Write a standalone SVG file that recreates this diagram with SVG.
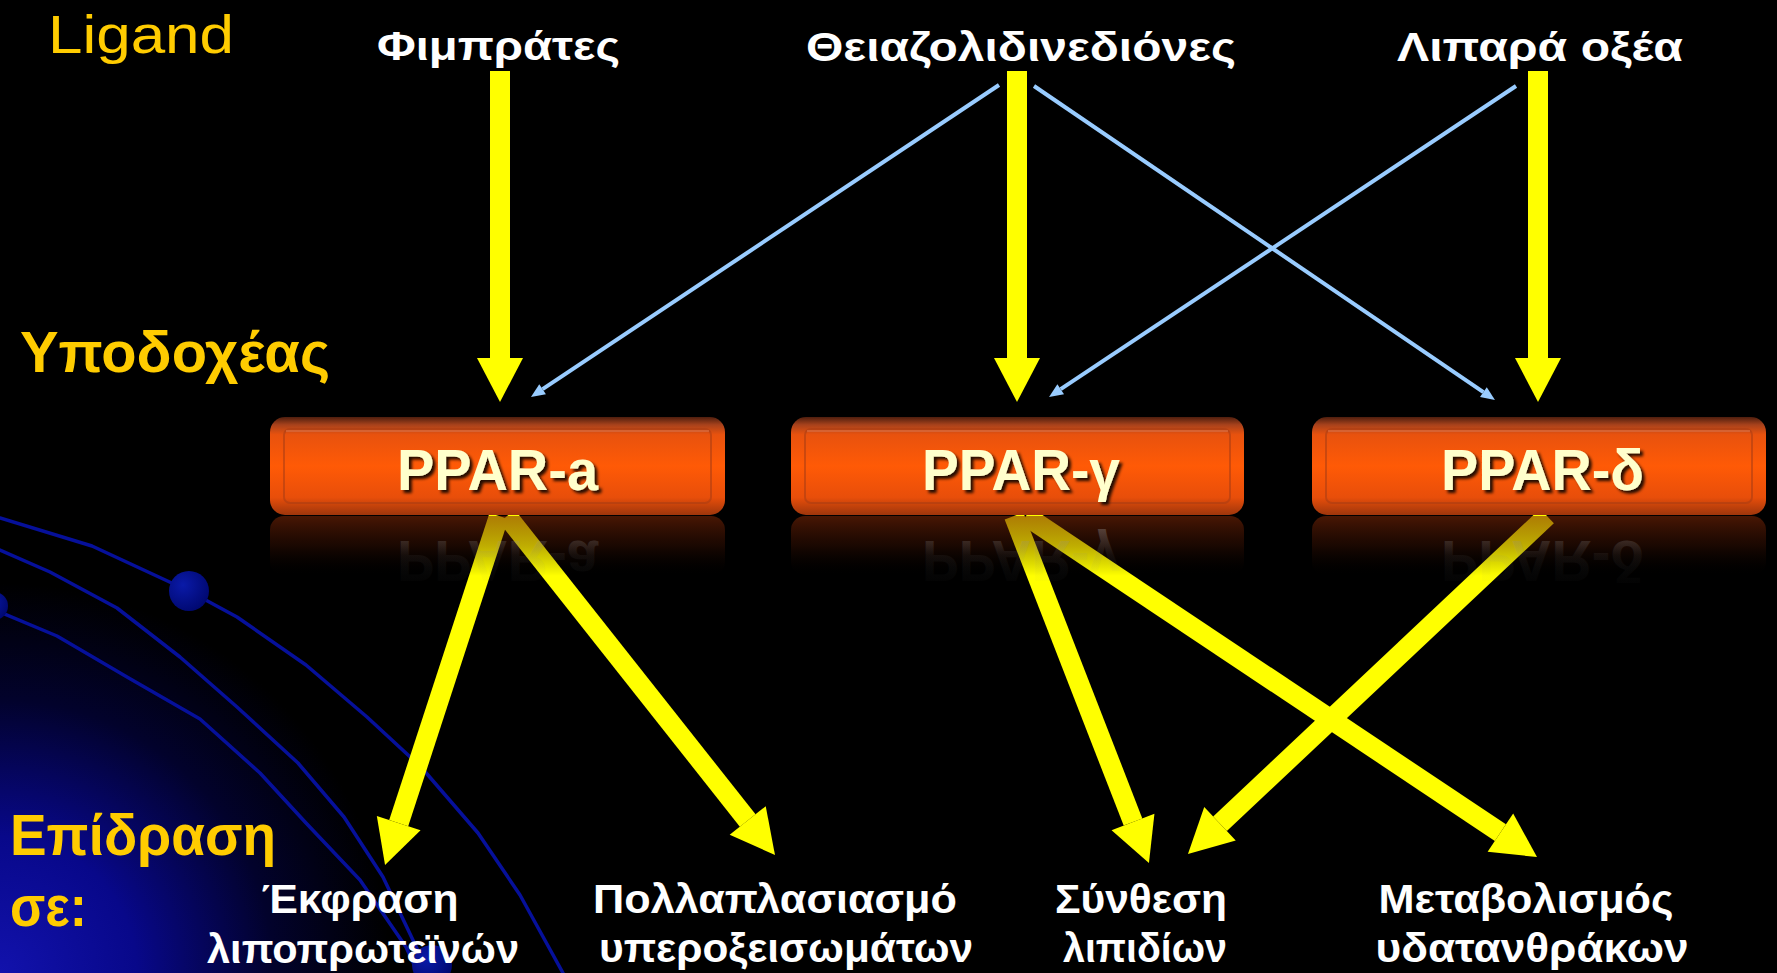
<svg xmlns="http://www.w3.org/2000/svg" width="1777" height="973" viewBox="0 0 1777 973">
<style>
.gold{fill:#FFCC00;font-family:"Liberation Sans",Arial,sans-serif;}
.lbl{fill:#FFFFFF;font-family:"Liberation Sans",Arial,sans-serif;font-weight:bold;font-size:40px;}
.ppar{fill:#FFFFCC;font-family:"Liberation Sans",Arial,sans-serif;font-weight:bold;font-size:58px;filter:url(#shadow);}
.pparR{fill:url(#reflText);font-family:"Liberation Sans",Arial,sans-serif;font-weight:bold;font-size:58px;}
.orbit{fill:none;stroke:#06109A;stroke-width:3.5;stroke-linejoin:round;stroke-linecap:round;}
.yarrow{stroke:#FFFF00;stroke-width:20;fill:none;marker-end:url(#yhead);}
.barrow{stroke:#99CCFF;stroke-width:4;fill:none;marker-end:url(#bhead);}
.box{fill:url(#boxGrad);}
.bevel{fill:none;stroke:#A83C14;stroke-width:2;opacity:0.55;}
.hl{stroke:#D8683A;stroke-width:2;opacity:0.8;}
.refl{fill:url(#reflGrad);}
</style>
<defs>
<radialGradient id="glow" cx="0" cy="973" r="390" gradientUnits="userSpaceOnUse">
<stop offset="0" stop-color="#1212AC"/>
<stop offset="0.35" stop-color="#08088A"/>
<stop offset="0.7" stop-color="#02022C"/>
<stop offset="1" stop-color="#000000"/>
</radialGradient>
<radialGradient id="dotGrad" cx="0.35" cy="0.35" r="0.7">
<stop offset="0" stop-color="#0A1AA8"/>
<stop offset="1" stop-color="#000870"/>
</radialGradient>
<linearGradient id="boxGrad" x1="0" y1="0" x2="0" y2="1">
<stop offset="0" stop-color="#4E1E0E"/>
<stop offset="0.08" stop-color="#A8421C"/>
<stop offset="0.18" stop-color="#E8520E"/>
<stop offset="0.5" stop-color="#FF5A06"/>
<stop offset="0.82" stop-color="#E84E0A"/>
<stop offset="1" stop-color="#9E360C"/>
</linearGradient>
<linearGradient id="reflGrad" x1="0" y1="0" x2="0" y2="1">
<stop offset="0" stop-color="#7A2606" stop-opacity="0.6"/>
<stop offset="0.5" stop-color="#4A1604" stop-opacity="0.35"/>
<stop offset="1" stop-color="#000000" stop-opacity="0"/>
</linearGradient>
<linearGradient id="reflText" x1="0" y1="0" x2="0" y2="1">
<stop offset="0" stop-color="#888888" stop-opacity="0"/>
<stop offset="0.6" stop-color="#888888" stop-opacity="0.08"/>
<stop offset="1" stop-color="#999999" stop-opacity="0.35"/>
</linearGradient>
<filter id="shadow" x="-10%" y="-20%" width="130%" height="150%">
<feDropShadow dx="3" dy="3" stdDeviation="1.5" flood-color="#000000" flood-opacity="0.85"/>
</filter>
<marker id="yhead" markerUnits="userSpaceOnUse" markerWidth="50" markerHeight="50" refX="0" refY="0" orient="auto" viewBox="0 -25 50 50" overflow="visible">
<path d="M0,-23 L44,0 L0,23 Z" fill="#FFFF00"/>
</marker>
<marker id="bhead" markerUnits="userSpaceOnUse" markerWidth="20" markerHeight="20" refX="0" refY="0" orient="auto" viewBox="0 -10 20 20" overflow="visible">
<path d="M0,-6 L14,0 L0,6 Z" fill="#99CCFF"/>
</marker>
</defs>

<rect x="0" y="0" width="1777" height="973" fill="#000000"/>
<rect x="0" y="560" width="420" height="413" fill="url(#glow)"/>

<g id="orbits">
<polyline class="orbit" points="0,518 92,546 189,591 237,617 306,665 367,717 421,767 478,833 520,895 563,973"/>
<polyline class="orbit" points="0,550 50,572 117,608 180,657 237,707 298,763 344,817 383,877 421,957 428,973"/>
<polyline class="orbit" points="0,612 57,636 127,677 200,719 260,773 306,823 360,880 406,947 418,973"/>
<circle cx="189" cy="591" r="20" fill="url(#dotGrad)"/>
<circle cx="-6" cy="606" r="14" fill="url(#dotGrad)"/>
<circle cx="432" cy="965" r="20" fill="url(#dotGrad)"/>
</g>

<g id="labels-left">
<text class="gold" x="48" y="53" font-size="53" textLength="186" lengthAdjust="spacingAndGlyphs">Ligand</text>
<text class="gold" x="20" y="372" font-size="58" font-weight="bold" textLength="310" lengthAdjust="spacingAndGlyphs">Υποδοχέας</text>
<text class="gold" x="10" y="855" font-size="58" font-weight="bold" textLength="266" lengthAdjust="spacingAndGlyphs">Επίδραση</text>
<text class="gold" x="10" y="926" font-size="58" font-weight="bold" textLength="77" lengthAdjust="spacingAndGlyphs">σε:</text>
</g>

<g id="connectors">
<line class="yarrow" x1="500" y1="71" x2="500" y2="358"/>
<line class="yarrow" x1="1017" y1="71" x2="1017" y2="358"/>
<line class="yarrow" x1="1538" y1="71" x2="1538" y2="358"/>
<line class="barrow" x1="999" y1="85" x2="542.6" y2="389.2"/>
<line class="barrow" x1="1034" y1="86" x2="1483.4" y2="392.1"/>
<line class="barrow" x1="1516" y1="86" x2="1060.7" y2="389.2"/>
<line class="yarrow" x1="499" y1="516" x2="398.7" y2="823.2"/>
<line class="yarrow" x1="507" y1="516" x2="747.7" y2="820.5"/>
<line class="yarrow" x1="1014" y1="516" x2="1133" y2="822"/>
<line class="yarrow" x1="1026" y1="516" x2="1500.4" y2="832.6"/>
<line class="yarrow" x1="1547" y1="516" x2="1220" y2="823.8"/>
</g>

<g id="ligand-fibrates">
<text class="lbl" x="377" y="60" textLength="243" lengthAdjust="spacingAndGlyphs">Φιμπράτες</text>
</g>
<g id="ligand-tzd">
<text class="lbl" x="806" y="61" textLength="430" lengthAdjust="spacingAndGlyphs">Θειαζολιδινεδιόνες</text>
</g>
<g id="ligand-fa">
<text class="lbl" x="1397" y="61" textLength="286" lengthAdjust="spacingAndGlyphs">Λιπαρά οξέα</text>
</g>

<g id="ppar-a">
<rect class="refl" x="270" y="516" width="455" height="60" rx="14"/>
<text class="pparR" x="397" y="490" textLength="201" lengthAdjust="spacingAndGlyphs" transform="translate(0,1031) scale(1,-1)">PPAR-a</text>
<rect class="box" x="270" y="417" width="455" height="98" rx="15"/>
<rect class="bevel" x="284" y="429" width="427" height="74" rx="6"/>
<line class="hl" x1="286" y1="431" x2="709" y2="431"/>
<text class="ppar" x="397" y="490" textLength="201" lengthAdjust="spacingAndGlyphs">PPAR-a</text>
</g>
<g id="ppar-g">
<rect class="refl" x="791" y="516" width="453" height="60" rx="14"/>
<text class="pparR" x="922" y="490" textLength="198" lengthAdjust="spacingAndGlyphs" transform="translate(0,1031) scale(1,-1)">PPAR-γ</text>
<rect class="box" x="791" y="417" width="453" height="98" rx="15"/>
<rect class="bevel" x="805" y="429" width="425" height="74" rx="6"/>
<line class="hl" x1="807" y1="431" x2="1228" y2="431"/>
<text class="ppar" x="922" y="490" textLength="198" lengthAdjust="spacingAndGlyphs">PPAR-γ</text>
</g>
<g id="ppar-d">
<rect class="refl" x="1312" y="516" width="454" height="60" rx="14"/>
<text class="pparR" x="1441" y="490" textLength="203" lengthAdjust="spacingAndGlyphs" transform="translate(0,1031) scale(1,-1)">PPAR-δ</text>
<rect class="box" x="1312" y="417" width="454" height="98" rx="15"/>
<rect class="bevel" x="1326" y="429" width="426" height="74" rx="6"/>
<line class="hl" x1="1328" y1="431" x2="1750" y2="431"/>
<text class="ppar" x="1441" y="490" textLength="203" lengthAdjust="spacingAndGlyphs">PPAR-δ</text>
</g>

<g id="effect-lipoprotein">
<text class="lbl" x="360" y="913" text-anchor="middle" textLength="197" lengthAdjust="spacingAndGlyphs">Έκφραση</text>
<text class="lbl" x="363" y="963" text-anchor="middle" textLength="312" lengthAdjust="spacingAndGlyphs">λιποπρωτεϊνών</text>
</g>
<g id="effect-peroxisome">
<text class="lbl" x="775" y="913" text-anchor="middle" textLength="364" lengthAdjust="spacingAndGlyphs">Πολλαπλασιασμό</text>
<text class="lbl" x="786" y="962" text-anchor="middle" textLength="374" lengthAdjust="spacingAndGlyphs">υπεροξεισωμάτων</text>
</g>
<g id="effect-lipid">
<text class="lbl" x="1141" y="913" text-anchor="middle" textLength="172" lengthAdjust="spacingAndGlyphs">Σύνθεση</text>
<text class="lbl" x="1145" y="962" text-anchor="middle" textLength="164" lengthAdjust="spacingAndGlyphs">λιπιδίων</text>
</g>
<g id="effect-carb">
<text class="lbl" x="1526" y="913" text-anchor="middle" textLength="295" lengthAdjust="spacingAndGlyphs">Μεταβολισμός</text>
<text class="lbl" x="1532" y="962" text-anchor="middle" textLength="313" lengthAdjust="spacingAndGlyphs">υδατανθράκων</text>
</g>
</svg>
